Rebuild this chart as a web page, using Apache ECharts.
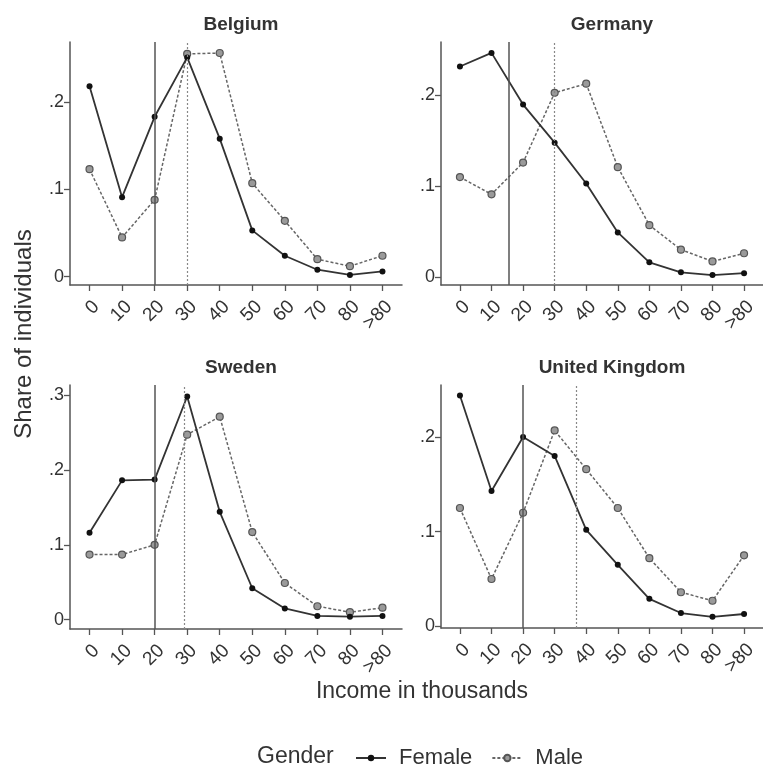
<!DOCTYPE html>
<html>
<head>
<meta charset="utf-8">
<script src="https://cdn.jsdelivr.net/npm/echarts@6/dist/echarts.min.js"></script>
<style>html,body{margin:0;padding:0;background:#fff}#c{width:763px;height:769px}</style>
</head>
<body>
<div id="c"></div>
<script>
// ---- data ----
const incomeBins = [0, 10, 20, 30, 40, 50, 60, 70, 80, 90];
const binLabels = ['0', '10', '20', '30', '40', '50', '60', '70', '80', '>80'];
const countries = ['Belgium', 'Germany', 'Sweden', 'United Kingdom'];
const belgiumFemale = [0.218, 0.091, 0.183, 0.251, 0.158, 0.053, 0.024, 0.008, 0.002, 0.006];
const belgiumMale   = [0.123, 0.045, 0.088, 0.255, 0.256, 0.107, 0.064, 0.020, 0.012, 0.024];
const germanyFemale = [0.232, 0.247, 0.190, 0.148, 0.103, 0.049, 0.016, 0.005, 0.002, 0.004];
const germanyMale   = [0.110, 0.091, 0.126, 0.203, 0.213, 0.121, 0.057, 0.030, 0.017, 0.026];
const swedenFemale  = [0.116, 0.186, 0.187, 0.298, 0.144, 0.042, 0.015, 0.005, 0.004, 0.005];
const swedenMale    = [0.087, 0.087, 0.100, 0.247, 0.271, 0.117, 0.049, 0.018, 0.010, 0.016];
const ukFemale      = [0.244, 0.143, 0.200, 0.180, 0.102, 0.065, 0.029, 0.014, 0.010, 0.013];
const ukMale        = [0.125, 0.050, 0.120, 0.207, 0.166, 0.125, 0.072, 0.036, 0.027, 0.075];
const femaleMedian = [20, 15.5, 20, 20];
const maleMedian   = [30, 30, 29, 37];
const yTickValues = [[0, 0.1, 0.2], [0, 0.1, 0.2], [0, 0.1, 0.2, 0.3], [0, 0.1, 0.2]];

const femaleSets = [belgiumFemale, germanyFemale, swedenFemale, ukFemale];
const maleSets = [belgiumMale, germanyMale, swedenMale, ukMale];

// ---- layout ----
const FONT = '"Liberation Sans", Arial, Helvetica, sans-serif';
const grids = [
  {left: 70, top: 42, width: 332, height: 243},
  {left: 441, top: 42, width: 332, height: 243},
  {left: 70, top: 385, width: 332, height: 244},
  {left: 441, top: 385, width: 332, height: 243}
];
const yRanges = [[-0.0095, 0.2686], [-0.009, 0.259], [-0.0124, 0.3133], [-0.0018, 0.255]];
const titleY = [10, 10, 353, 353];

const axisColor = '#555';
const chart = echarts.init(document.getElementById('c'), null, {renderer: 'canvas'});

const xAxes = [], yAxes = [], series = [], titles = [];
grids.forEach((g, i) => {
  xAxes.push({
    type: 'value', gridIndex: i, min: -6, max: 96,
    axisLine: {show: true, onZero: false, lineStyle: {color: axisColor, width: 1.5}},
    axisTick: {show: true, length: 6, customValues: incomeBins, lineStyle: {color: axisColor, width: 1.3}},
    axisLabel: {
      customValues: incomeBins, rotate: 45, margin: 12,
      align: 'right', verticalAlign: 'top',
      fontSize: 19, color: '#333', fontFamily: FONT,
      formatter: v => binLabels[incomeBins.indexOf(v)]
    },
    splitLine: {show: false}
  });
  yAxes.push({
    type: 'value', gridIndex: i, min: yRanges[i][0], max: yRanges[i][1],
    axisLine: {show: true, onZero: false, lineStyle: {color: axisColor, width: 1.5}},
    axisTick: {show: true, length: 6, customValues: yTickValues[i], lineStyle: {color: axisColor, width: 1.3}},
    axisLabel: {
      customValues: yTickValues[i], margin: 6,
      fontSize: 18, color: '#333', fontFamily: FONT,
      formatter: v => v === 0 ? '0' : String(Math.round(v * 10) / 10).replace(/^0/, '')
    },
    splitLine: {show: false}
  });
  titles.push({
    text: countries[i], left: g.left + g.width / 2, top: titleY[i], textAlign: 'center',
    textStyle: {fontSize: 19, fontWeight: 'bold', color: '#333', fontFamily: FONT}
  });
  series.push({
    name: 'Female', type: 'line', xAxisIndex: i, yAxisIndex: i,
    data: incomeBins.map((x, k) => [x, femaleSets[i][k]]),
    symbol: 'circle', symbolSize: 6,
    lineStyle: {color: '#333', width: 1.8},
    itemStyle: {color: '#111'},
    z: 4,
    markLine: {
      silent: true, symbol: ['none', 'none'], label: {show: false},
      lineStyle: {color: '#555', width: 1.5, type: 'solid'},
      emphasis: {disabled: true},
      data: [{xAxis: femaleMedian[i]}]
    }
  });
  series.push({
    name: 'Male', type: 'line', xAxisIndex: i, yAxisIndex: i,
    data: incomeBins.map((x, k) => [x, maleSets[i][k]]),
    symbol: 'circle', symbolSize: 7,
    lineStyle: {color: '#666', width: 1.5, type: [3, 2]},
    itemStyle: {color: '#9a9a9a', borderColor: '#555', borderWidth: 1.2},
    z: 3,
    markLine: {
      silent: true, symbol: ['none', 'none'], label: {show: false},
      lineStyle: {color: '#888', width: 1.2, type: [2, 2]},
      emphasis: {disabled: true},
      data: [{xAxis: maleMedian[i]}]
    }
  });
});

chart.setOption({
  animation: false,
  backgroundColor: '#fff',
  title: titles,
  grid: grids.map(g => Object.assign({containLabel: false}, g)),
  xAxis: xAxes,
  yAxis: yAxes,
  series: series,
  legend: {
    data: ['Female', 'Male'], left: 350, top: 742,
    itemWidth: 30, itemHeight: 8, itemGap: 19,
    textStyle: {fontSize: 22, color: '#333', fontFamily: FONT, padding: [0, 0, 0, 8]}
  },
  graphic: [
    {type: 'text', x: 24, y: 334, rotation: Math.PI / 2,
     style: {text: 'Share of individuals', font: '24px ' + FONT, fill: '#333', align: 'center', verticalAlign: 'middle'}},
    {type: 'text', x: 422, y: 692,
     style: {text: 'Income in thousands', font: '23px ' + FONT, fill: '#333', align: 'center', verticalAlign: 'middle'}},
    {type: 'text', x: 257, y: 757,
     style: {text: 'Gender', font: '23px ' + FONT, fill: '#333', align: 'left', verticalAlign: 'middle'}}
  ]
});
</script>
</body>
</html>
